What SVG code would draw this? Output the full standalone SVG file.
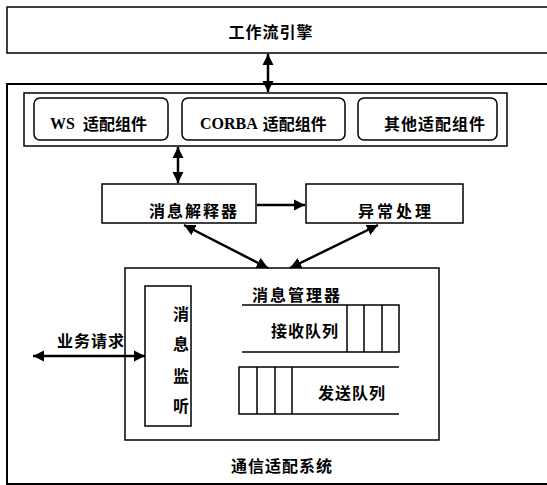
<svg xmlns="http://www.w3.org/2000/svg" width="547" height="485" viewBox="0 0 547 485">
<defs>
<marker id="ah" viewBox="0 0 10 10" refX="10" refY="5" markerWidth="4.5" markerHeight="4.5" orient="auto-start-reverse" markerUnits="strokeWidth">
<path d="M0,0 L10,5 L0,10 Z" fill="#000"/>
</marker>
<style>
.box{fill:#fff;stroke:#000;stroke-width:1.5}
.t{font-family:"Noto Sans CJK SC","Noto Sans",sans-serif;font-weight:bold;font-size:16px;fill:#000;dominant-baseline:central}
.s{font-family:"Liberation Serif","Noto Sans CJK SC",serif;font-weight:bold;font-size:16px}
.c{fill:none;stroke:#000;stroke-width:2.5;marker-start:url(#ah);marker-end:url(#ah)}
.c1{fill:none;stroke:#000;stroke-width:2.5;marker-end:url(#ah)}
.q{fill:none;stroke:#000;stroke-width:1.5}
</style>
</defs>
<rect width="547" height="485" fill="#fff"/>
<g id="engine">
<path class="box" d="M560,7 H7 V53 H560"/>
<text class="t" x="271" y="31" text-anchor="middle" letter-spacing="1">工作流引擎</text>
</g>
<g id="system">
<path class="box" d="M560,84 H7 V484 H560" style="stroke-width:2"/>
<text class="t" x="282" y="465" text-anchor="middle" letter-spacing="1">通信适配系统</text>
</g>
<g id="adapters">
<rect class="box" x="24" y="93" width="483" height="53"/>
</g>
<g id="ws">
<rect class="box" x="34" y="98" width="134" height="42" rx="6"/>
<text class="t" x="50" y="123"><tspan class="s">WS</tspan><tspan dx="8">适配组件</tspan></text>
</g>
<g id="corba">
<rect class="box" x="182" y="98" width="163" height="42" rx="6"/>
<text class="t" x="200" y="123"><tspan class="s">CORBA</tspan><tspan dx="5">适配组件</tspan></text>
</g>
<g id="other">
<rect class="box" x="358" y="98" width="139" height="42" rx="6"/>
<text class="t" x="384" y="123" letter-spacing="1">其他适配组件</text>
</g>
<g id="interpreter">
<rect class="box" x="102" y="184" width="154" height="39"/>
<text class="t" x="194" y="210" text-anchor="middle" letter-spacing="2">消息解释器</text>
</g>
<g id="exception">
<rect class="box" x="306" y="184" width="157" height="39"/>
<text class="t" x="396" y="210" text-anchor="middle" letter-spacing="3">异常处理</text>
</g>
<g id="manager">
<rect class="box" x="125" y="268" width="314" height="172"/>
<text class="t" x="297" y="294" text-anchor="middle" letter-spacing="2">消息管理器</text>
</g>
<g id="listener">
<rect class="box" x="145" y="286" width="46" height="140"/>
<text class="t" x="181" y="313" text-anchor="middle">消</text>
<text class="t" x="181" y="343" text-anchor="middle">息</text>
<text class="t" x="181" y="375" text-anchor="middle">监</text>
<text class="t" x="181" y="405" text-anchor="middle">听</text>
</g>
<g id="recvq">
<path class="q" d="M242,305 H399 V352 H242 M347,305 V352 M364,305 V352 M382,305 V352"/>
<text class="t" x="305" y="330" text-anchor="middle" letter-spacing="1">接收队列</text>
</g>
<g id="sendq">
<path class="q" d="M399,367 H239 V414 H399 M257,367 V414 M275,367 V414 M292,367 V414"/>
<text class="t" x="352" y="392" text-anchor="middle" letter-spacing="1">发送队列</text>
</g>
<g id="request-label">
<text class="t" x="91" y="340" text-anchor="middle" letter-spacing="1">业务请求</text>
</g>
<g id="connectors">
<line class="c" x1="268" y1="54" x2="268" y2="92"/>
<line class="c" x1="178" y1="147" x2="178" y2="183"/>
<line class="c1" x1="257" y1="205" x2="305" y2="205"/>
<line class="c" x1="184" y1="225" x2="268" y2="268"/>
<line class="c" x1="378" y1="225" x2="290" y2="268"/>
<line class="c" x1="33" y1="356" x2="145" y2="356"/>
</g>
</svg>
